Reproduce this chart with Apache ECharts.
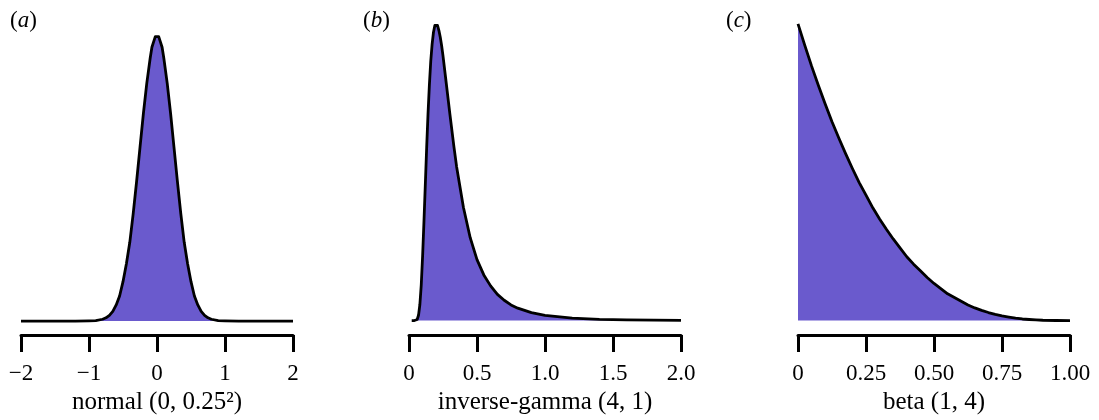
<!DOCTYPE html>
<html>
<head>
<meta charset="utf-8">
<script src="https://cdn.jsdelivr.net/npm/echarts@6/dist/echarts.min.js"></script>
<style>
html, body { margin: 0; padding: 0; background: #fff; }
#densityChart { width: 1099px; height: 420px; }
</style>
</head>
<body>
<div id="densityChart"></div>
<script>
// (a) normal (0, 0.25^2)
var normX = [-2, -1.5, -1.2, -1, -0.9, -0.8, -0.75, -0.7, -0.65, -0.6, -0.55, -0.5, -0.45, -0.4, -0.35, -0.3, -0.25, -0.2, -0.15, -0.1, -0.075, -0.05, -0.025,
  0, 0.025, 0.05, 0.075, 0.1, 0.15, 0.2, 0.25, 0.3, 0.35, 0.4, 0.45, 0.5, 0.55, 0.6, 0.65, 0.7, 0.75, 0.8, 0.9, 1, 1.2, 1.5, 2];
var normY = [0, 0, 0, 0.001, 0.002, 0.01, 0.018, 0.032, 0.054, 0.09, 0.14, 0.22, 0.32, 0.44, 0.60, 0.78, 0.97, 1.16, 1.33, 1.47, 1.53, 1.56, 1.59,
  1.60, 1.59, 1.56, 1.53, 1.47, 1.33, 1.16, 0.97, 0.78, 0.60, 0.44, 0.32, 0.22, 0.14, 0.09, 0.054, 0.032, 0.018, 0.01, 0.002, 0.001, 0, 0, 0];

// (b) inverse-gamma (4, 1)
var igX = [0.02, 0.04, 0.05, 0.06, 0.07, 0.08, 0.09, 0.10, 0.11, 0.12, 0.13, 0.14, 0.15, 0.16, 0.17, 0.18, 0.19, 0.20, 0.21, 0.22, 0.23,
  0.24, 0.25, 0.27, 0.30, 0.33, 0.35, 0.40, 0.45, 0.50, 0.55, 0.60, 0.65, 0.70, 0.75, 0.80, 0.90, 1.0, 1.2, 1.4, 1.6, 1.8, 2.0];
var igY = [0, 0, 0.001, 0.012, 0.062, 0.19, 0.42, 0.76, 1.17, 1.61, 2.05, 2.45, 2.79, 3.07, 3.27, 3.41, 3.49, 3.51, 3.49, 3.43, 3.35,
  3.25, 3.13, 2.86, 2.45, 2.06, 1.82, 1.34, 0.98, 0.72, 0.54, 0.41, 0.31, 0.24, 0.185, 0.146, 0.093, 0.061, 0.029, 0.015, 0.0085, 0.005, 0.003];

// (c) beta (1, 4)
var betaX = [0, 0.025, 0.05, 0.075, 0.1, 0.125, 0.15, 0.175, 0.2, 0.225, 0.25, 0.275, 0.3, 0.325, 0.35, 0.375, 0.4, 0.425, 0.45, 0.475,
  0.5, 0.525, 0.55, 0.575, 0.6, 0.625, 0.65, 0.675, 0.7, 0.725, 0.75, 0.775, 0.8, 0.825, 0.85, 0.875, 0.9, 0.95, 1];
var betaY = [4, 3.71, 3.43, 3.17, 2.92, 2.68, 2.46, 2.25, 2.05, 1.86, 1.69, 1.52, 1.37, 1.23, 1.10, 0.98, 0.86, 0.76, 0.67, 0.58,
  0.50, 0.43, 0.36, 0.31, 0.26, 0.21, 0.17, 0.137, 0.108, 0.083, 0.062, 0.046, 0.032, 0.021, 0.014, 0.008, 0.004, 0.0005, 0];

// tick labels
var ticksA = ['\u22122', '\u22121', '0', '1', '2'];
var ticksB = ['0', '0.5', '1.0', '1.5', '2.0'];
var ticksC = ['0', '0.25', '0.50', '0.75', '1.00'];

var serif = "'Liberation Serif', 'DejaVu Serif', serif";

function zip(xs, ys) {
  return xs.map(function (x, i) { return [x, ys[i]]; });
}

function xAxisFor(idx, min, max, step, labels, name) {
  return {
    type: 'value', gridIndex: idx, min: min, max: max, interval: step,
    name: name, nameLocation: 'middle', nameGap: 55,
    nameTextStyle: { fontFamily: serif, fontSize: 25, color: '#000' },
    axisLine: { show: true, onZero: false, lineStyle: { color: '#000', width: 3 } },
    axisTick: { show: true, length: 17, lineStyle: { color: '#000', width: 3 } },
    axisLabel: {
      margin: 27, fontFamily: serif, fontSize: 23, color: '#000',
      formatter: function (v) { return labels[Math.round((v - min) / step)]; }
    },
    splitLine: { show: false }
  };
}

function yAxisFor(idx, min, max) {
  return { type: 'value', gridIndex: idx, min: min, max: max, show: false, splitLine: { show: false } };
}

function densitySeries(idx, data) {
  return {
    type: 'line', xAxisIndex: idx, yAxisIndex: idx,
    data: data, symbol: 'none', smooth: false,
    lineStyle: { color: '#000', width: 2.8, join: 'round' },
    areaStyle: { color: '#6A5ACD', opacity: 1 },
    silent: true, animation: false
  };
}

function panelTitle(letter, left) {
  return {
    text: '({i|' + letter + '})', left: left, top: 4,
    textStyle: {
      fontFamily: serif, fontSize: 23, fontWeight: 'normal', color: '#000',
      rich: { i: { fontFamily: serif, fontSize: 23, fontStyle: 'italic', color: '#000' } }
    }
  };
}

var chart = echarts.init(document.getElementById('densityChart'));
chart.setOption({
  backgroundColor: '#fff',
  animation: false,
  title: [panelTitle('a', 5), panelTitle('b', 358), panelTitle('c', 721)],
  grid: [
    { left: 21, right: 806, top: 20, bottom: 84 },
    { left: 409, right: 418, top: 20, bottom: 84 },
    { left: 798, right: 29, top: 20, bottom: 84 }
  ],
  xAxis: [
    xAxisFor(0, -2, 2, 1, ticksA, 'normal (0, 0.25\u00B2)'),
    xAxisFor(1, 0, 2, 0.5, ticksB, 'inverse-gamma (4, 1)'),
    xAxisFor(2, 0, 1, 0.25, ticksC, 'beta (1, 4)')
  ],
  yAxis: [
    yAxisFor(0, -0.078, 1.6825),
    yAxisFor(1, -0.171, 3.555),
    yAxisFor(2, -0.195, 4.052)
  ],
  series: [
    densitySeries(0, zip(normX, normY)),
    densitySeries(1, zip(igX, igY)),
    densitySeries(2, zip(betaX, betaY))
  ]
});
</script>
</body>
</html>
